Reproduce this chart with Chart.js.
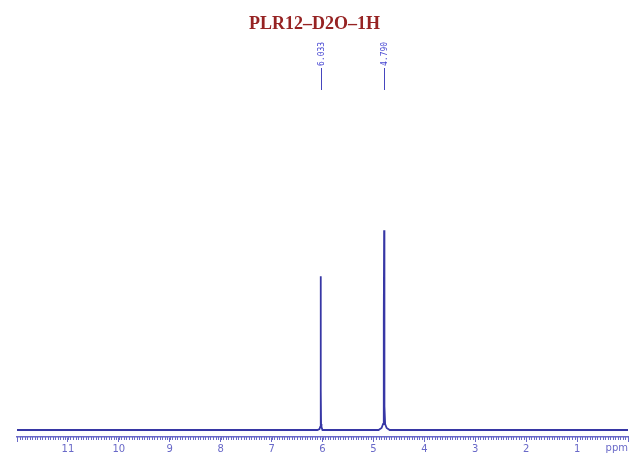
<!DOCTYPE html>
<html>
<head>
<meta charset="utf-8">
<script src="https://cdn.jsdelivr.net/npm/chart.js@4"></script>
<style>
  html, body { margin: 0; padding: 0; background: #fff; }
  #wrap { width: 629px; height: 459px; }
</style>
</head>
<body>
<div id="wrap"><canvas id="chart"></canvas></div>
<script>
// spectrum, ppm vs intensity
const ppm = [12, 6.10, 6.06, 6.045, 6.038, 6.035, 6.033, 6.031, 6.028, 6.02, 6.00,
             4.90, 4.84, 4.81, 4.80, 4.793, 4.790, 4.787, 4.78, 4.77, 4.74, 4.68, 0];
const intensity = [0, 0, 0.5, 1.5, 3, 20, 77, 20, 3, 1.5, 0,
                   0, 1, 3, 12, 55, 100, 55, 12, 3, 1, 0, 0];
const peakLabels = ['6.033', '4.790'];
const peakPos = [6.033, 4.790];
const titleText = 'PLR12–D2O–1H';

const blue = 'rgb(55,55,165)';
const axisBlue = 'rgb(105,105,200)';

let ctx = document.getElementById('chart').getContext('2d');

const extras = {
    id: 'extras',
    afterDraw(chart) {
        const c = chart.ctx, x = chart.scales.x, top = chart.chartArea.bottom;
        c.save();
        // minor ticks
        c.strokeStyle = axisBlue;
        c.lineWidth = 1;
        c.beginPath();
        for (let i = 0; i <= 240; i++) {
            const px = Math.round(x.getPixelForValue(i / 20)) + 0.5;
            c.moveTo(px, top);
            c.lineTo(px, top + 3);
        }
        c.stroke();
        // axis unit
        c.fillStyle = axisBlue;
        c.font = '10px "DejaVu Sans"';
        c.textAlign = 'center';
        c.textBaseline = 'middle';
        c.fillText('ppm', x.getPixelForValue(0.22), 448);
        // peak labels
        c.fillStyle = 'rgb(70,70,210)';
        c.strokeStyle = 'rgb(70,70,190)';
        c.font = '8px "DejaVu Sans Mono"';
        peakPos.forEach((p, i) => {
            const px = Math.round(x.getPixelForValue(p)) + 0.5;
            c.save();
            c.translate(px, 66);
            c.rotate(-Math.PI / 2);
            c.textAlign = 'left';
            c.textBaseline = 'middle';
            c.fillText(peakLabels[i], 0, 0);
            c.restore();
            c.beginPath();
            c.moveTo(px, 68);
            c.lineTo(px, 90);
            c.stroke();
        });
        c.restore();
    }
};

new Chart(ctx, {
    type: 'line',
    data: {
        datasets: [{
            data: ppm.map((p, i) => ({x: p, y: intensity[i]})),
            borderColor: blue,
            borderWidth: 1.8,
            pointRadius: 0,
            tension: 0,
            fill: false
        }]
    },
    options: {
        responsive: true,
        maintainAspectRatio: false,
        animation: false,
        layout: { padding: { left: 0, right: 0, top: 0, bottom: 0 } },
        scales: {
            x: {
                type: 'linear',
                reverse: true,
                min: 0,
                max: 12,
                afterFit: s => { s.height = 22; },
                ticks: {
                    stepSize: 1,
                    autoSkip: false,
                    maxRotation: 0,
                    padding: 1,
                    color: axisBlue,
                    font: { family: 'DejaVu Sans', size: 10 },
                    callback: v => (v === 0 || v === 12) ? '' : v
                },
                grid: { drawOnChartArea: false, tickLength: 5, color: axisBlue },
                border: { color: axisBlue, width: 1.5 }
            },
            y: {
                min: -3.5,
                max: 165,
                afterFit: s => { s.width = 17; },
                ticks: { display: false },
                grid: { display: false },
                border: { display: false }
            }
        },
        plugins: {
            legend: { display: false },
            tooltip: { enabled: false },
            title: {
                display: true,
                text: titleText,
                color: 'rgb(150,35,35)',
                font: { family: 'Liberation Serif', size: 18, weight: 'bold' },
                padding: { top: 14, bottom: 65 }
            }
        }
    },
    plugins: [extras]
});
</script>
</body>
</html>
